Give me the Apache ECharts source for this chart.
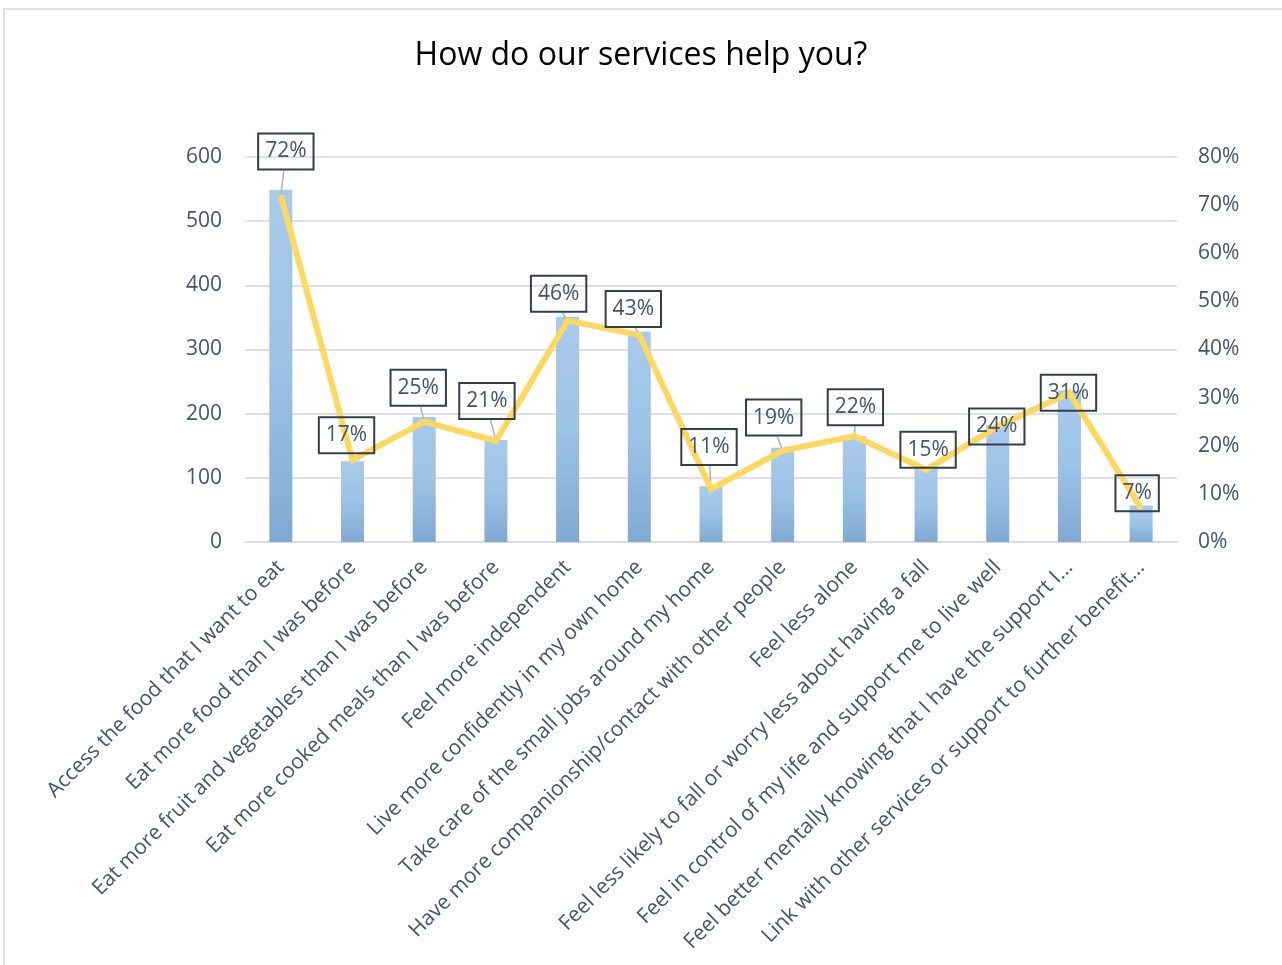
<!DOCTYPE html>
<html>
<head>
<meta charset="utf-8">
<title>How do our services help you?</title>
<script src="https://cdn.jsdelivr.net/npm/echarts@6/dist/echarts.min.js"></script>
<style>
  html, body { margin: 0; padding: 0; background: #ffffff; overflow: hidden; }
  #frame { position: absolute; left: 3px; top: 8px; width: 1300px; height: 980px;
           border-left: 2px solid #dfe3e8; border-top: 2px solid #dfe3e8; }
  #chart { position: absolute; left: 0; top: 0; width: 1282px; height: 965px; }
</style>
</head>
<body>
<div id="frame"></div>
<div id="chart"></div>
<script>
// Survey answers, number of respondents per answer and share of respondents
const categories = [
  'Access the food that I want to eat',
  'Eat more food than I was before',
  'Eat more fruit and vegetables than I was before',
  'Eat more cooked meals than I was before',
  'Feel more independent',
  'Live more confidently in my own home',
  'Take care of the small jobs around my home',
  'Have more companionship/contact with other people',
  'Feel less alone',
  'Feel less likely to fall or worry less about having a fall',
  'Feel in control of my life and support me to live well',
  'Feel better mentally knowing that I have the support I...',
  'Link with other services or support to further benefit...'
];
const counts = [549, 126, 195, 159, 351, 328, 87, 147, 165, 115, 182, 236, 57];
const percents = [72, 17, 25, 21, 46, 43, 11, 19, 22, 15, 24, 31, 7];
const leftTicks = { min: 0, max: 600, step: 100 };
const rightTicks = { min: 0, max: 80, step: 10 };

// Callout placement relative to each point (px)
const calloutOffsets = [
  [5, -44], [-6, -25], [-6, -34], [-9, -40], [-9, -27], [-6, -26], [-2, -42],
  [-9, -33], [1, -29], [2, -20], [-1, 0], [-1, 0], [-4, -15]
];
const CALLOUT_HALF_HEIGHT = 19;

const FONT = '"Open Sans", "Noto Sans", sans-serif';
const TEXT = '#44546a';

const chart = echarts.init(document.getElementById('chart'), null, { renderer: 'canvas' });

chart.setOption({
  backgroundColor: 'transparent',
  animation: false,
  title: {
    text: 'How do our services help you?',
    left: 'center',
    top: 35,
    textStyle: { fontFamily: FONT, fontSize: 32, fontWeight: 'normal', color: '#000000' }
  },
  grid: { left: 245, right: 105, top: 157, bottom: 423, containLabel: false },
  xAxis: {
    type: 'category',
    data: categories,
    axisLine: { show: true, lineStyle: { color: '#d9dde3', width: 2 } },
    axisTick: { show: false },
    axisLabel: {
      interval: 0,
      rotate: 45,
      margin: 22,
      color: TEXT,
      fontFamily: FONT,
      fontSize: 21
    }
  },
  yAxis: [
    {
      type: 'value',
      min: leftTicks.min, max: leftTicks.max, interval: leftTicks.step,
      axisLine: { show: false },
      axisTick: { show: false },
      splitLine: { show: true, lineStyle: { color: '#dde1e6', width: 2 } },
      axisLabel: { margin: 23, color: TEXT, fontFamily: FONT, fontSize: 21 }
    },
    {
      type: 'value',
      min: rightTicks.min, max: rightTicks.max, interval: rightTicks.step,
      position: 'right',
      axisLine: { show: false },
      axisTick: { show: false },
      splitLine: { show: false },
      axisLabel: { margin: 21, color: TEXT, fontFamily: FONT, fontSize: 21, formatter: '{value}%' }
    }
  ],
  series: [
    {
      name: 'Respondents',
      type: 'bar',
      yAxisIndex: 0,
      barWidth: 23,
      data: counts,
      itemStyle: {
        color: new echarts.graphic.LinearGradient(0, 0, 0, 1, [
          { offset: 0, color: '#a9caeb' },
          { offset: 0.5, color: '#9cc2e6' },
          { offset: 1, color: '#80a9d3' }
        ])
      },
      z: 2
    },
    {
      // thin leader lines from each callout down to its point
      name: 'Leaders',
      type: 'custom',
      yAxisIndex: 1,
      silent: true,
      data: percents.map((v, i) => [i, v]),
      renderItem: function (params, api) {
        const p = api.coord([api.value(0), api.value(1)]);
        const off = calloutOffsets[params.dataIndex];
        const bottom = p[1] + off[1] + CALLOUT_HALF_HEIGHT;
        if (p[1] - bottom < 6) return null;
        return {
          type: 'line',
          shape: { x1: p[0] + off[0] * 0.6, y1: bottom, x2: p[0], y2: p[1] },
          style: { stroke: '#aab4c0', lineWidth: 1.5 }
        };
      },
      z: 3
    },
    {
      name: 'Share',
      type: 'line',
      yAxisIndex: 1,
      data: percents.map((v, i) => ({ value: v, label: { offset: calloutOffsets[i] } })),
      symbol: 'circle',
      symbolSize: 2,
      showSymbol: true,
      itemStyle: { color: '#ffd85f' },
      lineStyle: { color: '#ffd85f', width: 6, join: 'miter' },
      label: {
        show: true,
        position: 'inside',
        formatter: '{c}%',
        color: TEXT,
        fontFamily: FONT,
        fontSize: 21,
        lineHeight: 24,
        borderColor: '#333f50',
        borderWidth: 2,
        padding: [6, 7, 6, 7]
      },
      z: 5
    }
  ]
});
</script>
</body>
</html>
